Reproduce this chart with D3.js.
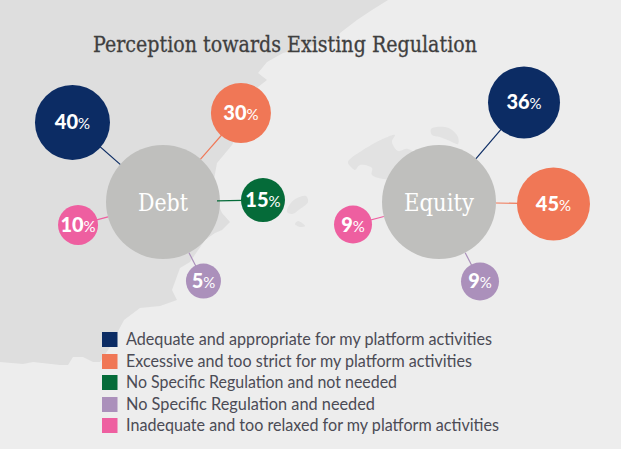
<!DOCTYPE html>
<html><head><meta charset="utf-8">
<script src="https://cdn.jsdelivr.net/npm/d3@7"></script>
<style>html,body{margin:0;padding:0;background:#ededed}svg{display:block}</style>
</head><body><div id="chart"></div>
<script>
const titleText = "Perception towards Existing Regulation";
const categories = [
  "Adequate and appropriate for my platform activities",
  "Excessive and too strict for my platform activities",
  "No Specific Regulation and not needed",
  "No Specific Regulation and needed",
  "Inadequate and too relaxed for my platform activities"
];
const colours = ["#0c2c64", "#f07756", "#056b39", "#ab90bb", "#ee5fa0"];
const groups = ["Debt", "Equity"];
const debtValues = [40, 30, 15, 5, 10];
const equityValues = [36, 45, null, 9, 9];

// layout of the radial bubbles (not data)
const debtBearings = [-48.7, 41.2, 88.9, 152.9, -105.1];
const equityBearings = [40.5, 91, 0, 152.7, -104.7];
const debtDistances = [120.5, 118.3, 100, 88.8, 88];
const equityDistances = [130.9, 114.5, 0, 89.4, 88.9];
const hubX = [163, 439], hubY = 202, hubRadius = 57;
const radiusDomain = [5, 9, 10, 15, 30, 36, 40, 45];
const radiusRange = [17.5, 19, 20, 22, 30, 36, 37.5, 36.5];
const groupLabelWidths = [50, 70];
const legendWidths = [366, 346, 271, 249, 373];

// background map (decor)
const mainland = [[0,0],[388,0],[372,10],[357,20],[340,33],[337,40],[315,45],[283,53],[267,62],[258,73],[267,80],[258,87],[245,120],[232,145],[217,163],[212,190],[222,213],[230,222],[222,230],[215,233],[205,240],[190,262],[180,268],[172,290],[177,300],[160,306],[140,308],[124,320],[115,337],[110,347],[100,362],[93,362],[83,357],[73,357],[68,365],[60,365],[33,362],[23,364],[0,362]];
const islands = [
  [[348,162],[363,150],[385,138],[395,135],[392,141],[393,145],[398,151],[408,149],[420,160],[410,178],[395,180],[372,175],[372,168],[360,165],[355,170],[352,168]],
  [[431,129],[445,127],[452,130],[458,137],[458,144],[450,141],[440,137],[432,135]],
  [[287,212],[290,204],[297,198],[306,196],[308,202],[300,209],[292,214]],
  [[295,224],[298,221],[305,226],[300,227]]
];

const W = 621, H = 449;
const svg = d3.select("#chart").append("svg").attr("width", W).attr("height", H);
svg.append("rect").attr("width", W).attr("height", H).attr("fill", "#ededed");
svg.append("path").attr("d", d3.line().curve(d3.curveLinearClosed)(mainland)).attr("fill", "#dedede");
svg.selectAll("path.isle").data(islands).join("path").attr("class","isle")
  .attr("d", d3.line().curve(d3.curveCatmullRomClosed)).attr("fill", "#e2e2e2");

svg.append("text").text(titleText).attr("x", 93).attr("y", 52)
  .attr("font-family", "'DejaVu Serif'").attr("font-size", 21.5).attr("fill", "#3f3f3f")
  .attr("stroke", "#3f3f3f").attr("stroke-width", 0.3)
  .attr("textLength", 384).attr("lengthAdjust", "spacingAndGlyphs");

const radius = d3.scaleLinear().domain(radiusDomain).range(radiusRange);
const rad = d => d * Math.PI / 180;

[[debtValues, debtBearings, debtDistances], [equityValues, equityBearings, equityDistances]].forEach(([vals, bears, dists], g) => {
  const root = svg.append("g").attr("transform", `translate(${hubX[g]},${hubY})`);
  const items = vals.map((v, i) => ({v, i, c: colours[i], a: rad(bears[i]), d: dists[i]})).filter(o => o.v !== null);
  root.append("circle").attr("r", hubRadius).attr("fill", "#bfbfbd");
  root.selectAll("line").data(items).join("line")
    .attr("x1", o => d3.pointRadial(o.a, hubRadius - (o.i === 2 && g === 0 ? 3 : 0))[0])
    .attr("y1", o => d3.pointRadial(o.a, hubRadius - (o.i === 2 && g === 0 ? 3 : 0))[1])
    .attr("x2", o => d3.pointRadial(o.a, o.d)[0])
    .attr("y2", o => d3.pointRadial(o.a, o.d)[1])
    .attr("stroke", o => o.c).attr("stroke-width", 1.2);
  const node = root.selectAll("g.b").data(items).join("g").attr("class", "b")
    .attr("transform", o => `translate(${d3.pointRadial(o.a, o.d)})`);
  node.append("circle").attr("r", o => radius(o.v)).attr("fill", o => o.c);
  const t = node.append("text").attr("text-anchor", "middle").attr("y", 7)
    .attr("font-family", "Lato").attr("fill", "#fff");
  t.append("tspan").attr("font-size", 20).attr("font-weight", 900).text(o => o.v);
  t.append("tspan").attr("font-size", 15).text("%");
  root.append("text").text(groups[g]).attr("text-anchor", "middle").attr("y", 8.5)
    .attr("font-family", "'DejaVu Serif'").attr("font-size", 24).attr("fill", "#fff")
    .attr("textLength", groupLabelWidths[g]).attr("lengthAdjust", "spacingAndGlyphs");
});

const legendY = d3.scaleOrdinal().domain(categories).range([332, 354, 375, 397, 418]);
const leg = svg.selectAll("g.l").data(categories).join("g").attr("class", "l")
  .attr("transform", d => `translate(102,${legendY(d)})`);
leg.append("rect").attr("width", 15.5).attr("height", 15).attr("fill", (d, i) => colours[i]);
leg.append("text").text(d => d).attr("x", 24).attr("y", 13)
  .attr("font-family", "Lato").attr("font-size", 16.5).attr("fill", "#4b4b55")
  .attr("textLength", (d, i) => legendWidths[i]).attr("lengthAdjust", "spacingAndGlyphs");
</script></body></html>
